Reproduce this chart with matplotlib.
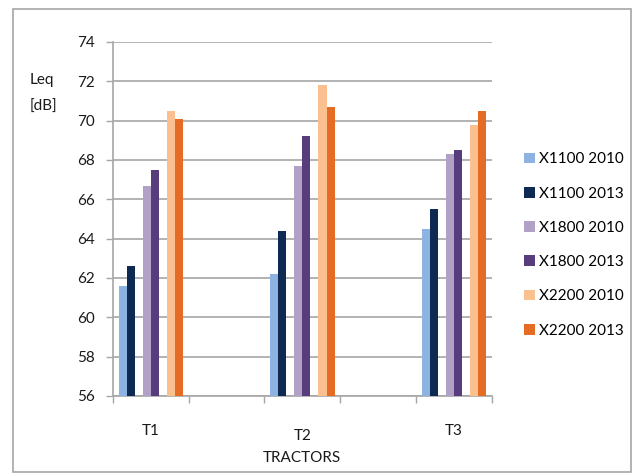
import matplotlib
matplotlib.use("Agg")
import matplotlib.pyplot as plt
import numpy as np

GRID = "#A6A6A6"
TEXT = "#1A1A1A"

tractors = ["T1", "T2", "T3"]
series = ["X1100 2010", "X1100 2013", "X1800 2010", "X1800 2013", "X2200 2010", "X2200 2013"]
colors = ["#8DB3E2", "#0E2A52", "#B2A1C7", "#573D7C", "#FAC090", "#E46C24"]

# Leq values per series, one value per tractor (T1, T2, T3)
x1100_2010 = [61.6, 62.2, 64.5]
x1100_2013 = [62.6, 64.4, 65.5]
x1800_2010 = [66.7, 67.7, 68.3]
x1800_2013 = [67.5, 69.2, 68.5]
x2200_2010 = [70.5, 71.8, 69.8]
x2200_2013 = [70.1, 70.7, 70.5]
values = [x1100_2010, x1100_2013, x1800_2010, x1800_2013, x2200_2010, x2200_2013]

yticks = list(range(56, 75, 2))

plt.rcParams["font.family"] = ["Lato", "DejaVu Sans"]

fig = plt.figure(figsize=(6.33, 4.74), dpi=100)
fig.patch.set_facecolor("white")
ax = fig.add_axes([0.1785, 0.1646, 0.5983, 0.7468])

# the sheet had 5 category slots: T1, blank, T2, blank, T3
cat_pos = np.arange(len(tractors)) * 2
slots = [0, 1, 3, 4, 6, 7]
w = 0.1063
base = 56
for i, (name, vals, col) in enumerate(zip(series, values, colors)):
    xs = cat_pos + (slots[i] - 3.5) * w
    ax.bar(xs, np.array(vals) - base, bottom=base, width=w, color=col,
           label=name, linewidth=0, zorder=3)

ax.set_xlim(-0.5, 4.5)
ax.set_ylim(56, 74)
ax.set_yticks(yticks)
ax.set_yticklabels([str(t) for t in yticks], fontsize=11, color=TEXT)
ax.yaxis.grid(True, color=GRID, linewidth=1.2, zorder=0)
ax.set_axisbelow(True)
ax.tick_params(axis="y", length=5, width=1, color=GRID, pad=8)

ax.set_xticks(np.arange(-0.5, 4.6, 1.0))
ax.set_xticklabels([])
ax.tick_params(axis="x", length=5, width=1, color=GRID)

for s in ["top", "right"]:
    ax.spines[s].set_visible(False)
for s in ["left", "bottom"]:
    ax.spines[s].set_color(GRID)
    ax.spines[s].set_linewidth(1.2)

trans = ax.get_xaxis_transform()
for k, (lab, xp) in enumerate(zip(tractors, cat_pos)):
    dy = -0.098 if k != 1 else -0.112
    ax.text(xp, dy, lab, transform=trans, ha="center", va="center",
            fontsize=11, color=TEXT)
ax.text(2.0, -0.175, "TRACTORS", transform=trans, ha="center", va="center",
        fontsize=11, color=TEXT)

fig.text(30 / 633, 1 - 80 / 474, "Leq", ha="left", va="center", fontsize=11, color=TEXT)
fig.text(30 / 633, 1 - 107 / 474, "[dB]", ha="left", va="center", fontsize=11, color=TEXT)

fig.legend(loc="center left", bbox_to_anchor=(518 / 633, 1 - 245 / 474),
           frameon=False, fontsize=11, labelspacing=1.33, handlelength=0.7,
           handleheight=0.7, handletextpad=0.25, borderaxespad=0)

border = plt.Rectangle((13 / 633, 2 / 474), 618 / 633, 463 / 474,
                       transform=fig.transFigure, fill=False,
                       edgecolor=GRID, linewidth=1.2)
fig.add_artist(border)

fig.savefig("out.png", dpi=100, facecolor="white")
